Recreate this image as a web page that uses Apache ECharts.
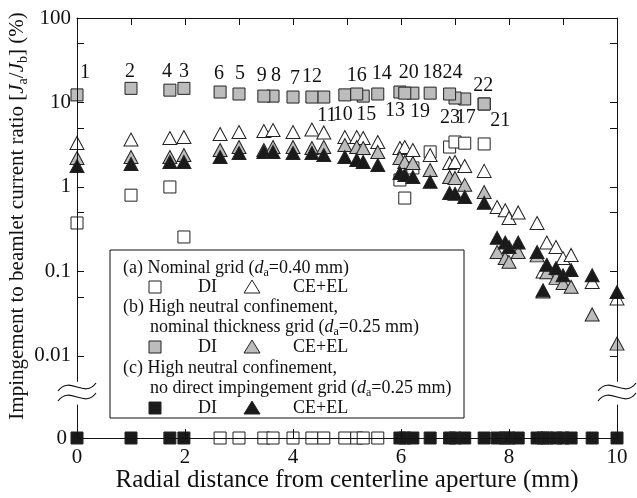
<!DOCTYPE html>
<html>
<head>
<meta charset="utf-8">
<script src="https://cdn.jsdelivr.net/npm/echarts@6/dist/echarts.min.js"></script>
<style>
html, body { margin: 0; padding: 0; background: #fff; }
#chart { width: 637px; height: 498px; }
</style>
</head>
<body>
<div id="chart"></div>
<script>
// Radial distance (mm) of every measured aperture position
const radius = [0, 1.0, 1.72, 1.98, 2.65, 3.0, 3.46, 3.63, 4.0, 4.35, 4.57, 4.96, 5.18, 5.3, 5.57,
  5.98, 6.07, 6.22, 6.54, 6.9, 7.0, 7.18, 7.54,
  7.78, 7.93, 8.0, 8.17, 8.52, 8.63, 8.7, 8.87, 9.0, 9.15, 9.54, 10];

// (a) Nominal grid, da = 0.40 mm  (0 = no measurable current, null = not measured)
const nominalDI = [0.375, 0.80, 1.0, 0.256, 0, 0, 0, 0, 0, 0, 0, 0, 0, 0, 0,
  1.21, 0.74, 1.68, 2.6, 2.97, 3.41, 3.3, 3.23,
  null, null, null, null, null, null, null, null, null, null, null, null];
const nominalCE = [3.32, 3.65, 3.8, 3.9, 4.24, 4.48, 4.6, 4.73, 4.48, 4.79, 4.42, 3.9, 3.9, 3.8, 3.41,
  2.89, 2.97, 2.74, 2.39, 1.92, 1.98, 1.77, 1.55,
  0.58, 0.53, 0.43, 0.5, 0.375, 0.1, 0.22, 0.195, 0.144, 0.157, 0.075, 0.048];

// (b) High neutral confinement, nominal thickness grid, da = 0.25 mm
const apertureNo = [1, 2, 3, 4, 5, 6, 7, 8, 9, 10, 11, 12, 13, 14, 15, 16, 17, 18, 19, 20, 21, 22, 23, 24];
const apertureR = [0, 1.0, 1.98, 1.72, 3.0, 2.65, 4.0, 3.63, 3.46, 4.96, 4.57, 4.35,
  5.98, 5.57, 5.3, 5.18, 7.18, 6.54, 6.22, 6.07, 7.54, 7.54, 7.0, 6.9];
const thickDI = [12.3, 14.7, 14.7, 14.0, 12.6, 13.3, 11.6, 11.9, 11.9, 12.3, 11.6, 11.6,
  13.3, 12.6, 11.9, 12.6, 11.0, 12.9, 12.9, 12.9, 9.6, 9.6, 11.3, 12.6];
const thickCE = [2.2, 2.26, 2.26, 2.39, 2.74, 2.97, 2.74, 2.97, 2.97, 2.89, 2.97, 3.14, 2.97, 2.89, 2.6,
  2.2, 1.98, 1.92, 1.59, 1.31, 1.28, 1.06, 0.87,
  0.17, 0.144, 0.13, 0.17, 0.155, 0.058, 0.098, 0.084, 0.073, 0.066, 0.031, 0.014];

// (c) High neutral confinement, no direct impingement grid, da = 0.25 mm
const noDirectDI = [0, 0, 0, 0, null, null, null, null, null, null, null, null, null, null, null,
  0, 0, 0, 0, 0, 0, 0, 0,
  0, 0, 0, 0, 0, 0, 0, 0, 0, 0, 0, 0];
const noDirectCE = [1.77, 1.87, 1.98, 1.98, 2.26, 2.52, 2.6, 2.6, 2.52, 2.52, 2.39, 2.26, 2.09, 1.98, 1.82,
  1.46, 1.39, 1.31, 1.15, 0.85, 0.83, 0.76, 0.65,
  0.25, 0.22, 0.195, 0.22, 0.17, 0.06, 0.12, 0.11, 0.09, 0.104, 0.09, 0.057];

// Axis ticks
const xTickLabels = [0, 2, 4, 6, 8, 10];
const yLabelValues = [0.01, 0.1, 1, 10, 100];
const yLabelText = ['0.01', '0.1', '1', '10', '100'];
const yTickValues = [0.01, 0.05, 0.1, 0.5, 1, 5, 10, 50, 100];

// Placement of aperture-number tags: [side, dx, dy]
const tagPlace = {
  1: ['top', 8, -4], 2: ['top', -1, 2], 3: ['top', 0, 2], 4: ['top', -3, 0], 5: ['top', 1, -2],
  6: ['top', -1, 0], 7: ['top', 2, 0], 8: ['top', 3, -2], 9: ['top', -2, -2], 10: ['bottom', -2, 1],
  11: ['bottom', 3, 0], 12: ['top', 0, -2], 13: ['bottom', -5, 0], 14: ['top', 4, -2], 15: ['bottom', 3, 0],
  16: ['top', 0, 0], 17: ['bottom', 1, 0], 18: ['top', 2, -2], 19: ['bottom', 7, 0], 20: ['top', 4, -2],
  21: ['bottom', 16, -2], 22: ['top', -1, 0], 23: ['bottom', -5, 1], 24: ['top', 3, -3]
};

const FONT = 'Liberation Serif';
const INK = '#111';
const WHITE = '#ffffff', GRAY = '#bcbcbc', BLACK = '#1a1a1a';
const SQ = 12, TRI = [14, 13];

function pick(xs, ys, test) {
  const out = [];
  xs.forEach((x, i) => { const y = ys[i]; if (y !== null && test(y)) out.push([x, y]); });
  return out;
}
const pos = y => y > 0;
const zero = y => y === 0;

function scatter(name, data, symbol, fill, grid, extra) {
  return Object.assign({
    name, type: 'scatter', data, symbol,
    symbolSize: symbol === 'rect' ? SQ : TRI,
    xAxisIndex: grid, yAxisIndex: grid === 0 ? 0 : 2,
    clip: false, silent: true,
    itemStyle: { color: fill, borderColor: '#222', borderWidth: 1, opacity: 1 }
  }, extra || {});
}

// Square markers for (b) DI, each carrying its aperture number
const thickDIData = apertureNo.map((n, i) => {
  const p = tagPlace[n];
  return {
    value: [apertureR[i], thickDI[i]],
    label: { show: true, formatter: String(n), position: p[0], distance: 2, offset: [p[1], p[2]] }
  };
});

const chart = echarts.init(document.getElementById('chart'), null, { renderer: 'canvas' });

const axisLine = { show: true, onZero: false, lineStyle: { color: INK, width: 1 } };
const tick = len => ({ show: true, inside: true, length: len, lineStyle: { color: INK, width: 1 } });

// Legend block
const LX = 110, LY = 250, LW = 354, LH = 168;
const rich = {
  i: { fontFamily: FONT, fontSize: 18, fontStyle: 'italic', fill: INK },
  s: { fontFamily: FONT, fontSize: 12, fill: INK, verticalAlign: 'bottom', lineHeight: 22 }
};
function ltext(x, y, text) {
  return { type: 'text', x, y, style: { text, fill: INK, font: '18px "Liberation Serif"', verticalAlign: 'middle', rich } };
}
function lsquare(cx, cy, fill) {
  return { type: 'rect', shape: { x: cx - 6, y: cy - 6, width: 12, height: 12 }, style: { fill, stroke: '#222', lineWidth: 1 } };
}
function ltri(cx, cy, fill) {
  return { type: 'polygon', shape: { points: [[cx, cy - 7], [cx + 8, cy + 6], [cx - 8, cy + 6]] }, style: { fill, stroke: '#222', lineWidth: 1 } };
}
function markerRow(y, fill) {
  return [lsquare(155, y, fill), ltext(198, y, 'DI'), ltri(252, y, fill), ltext(293, y, 'CE+EL')];
}
function wave(cx, cy) {
  return { type: 'bezierCurve', shape: { x1: cx - 19, y1: cy + 4, cpx1: cx - 7, cpy1: cy - 12, cpx2: cx + 7, cpy2: cy + 12, x2: cx + 19, y2: cy - 4 }, style: { stroke: INK, lineWidth: 1.2, fill: null } };
}

const graphics = [
  { type: 'rect', shape: { x: LX, y: LY, width: LW, height: LH }, style: { fill: '#fff', stroke: INK, lineWidth: 1 }, z: 20 },
  ltext(123, 268, '(a) Nominal grid ({i|d}{s|a}=0.40 mm)'),
  ...markerRow(287, WHITE),
  ltext(123, 307, '(b) High neutral confinement,'),
  ltext(150, 327, 'nominal thickness grid ({i|d}{s|a}=0.25 mm)'),
  ...markerRow(347, GRAY),
  ltext(123, 368, '(c) High neutral confinement,'),
  ltext(150, 388, 'no direct impingement grid ({i|d}{s|a}=0.25 mm)'),
  ...markerRow(408, BLACK),
  // axis breaks between the logarithmic part and the zero row
  wave(77, 387), wave(77, 397), wave(617, 387), wave(617, 397),
  // y axis title
  {
    type: 'text', x: 17, y: 216, rotation: Math.PI / 2,
    style: {
      text: 'Impingement to beamlet current ratio [{i|J}{s|a}/{i|J}{s|b}] (%)',
      fill: INK, font: '21px "Liberation Serif"', align: 'center', verticalAlign: 'middle',
      rich: {
        i: { fontFamily: FONT, fontSize: 21, fontStyle: 'italic', fill: INK },
        s: { fontFamily: FONT, fontSize: 14, fill: INK, verticalAlign: 'bottom', lineHeight: 26 }
      }
    }
  }
];
graphics.forEach((g, k) => { if (k > 0 && g.z === undefined) g.z = 21; });

chart.setOption({
  animation: false,
  backgroundColor: '#fff',
  textStyle: { fontFamily: FONT, color: INK },
  grid: [
    { left: 77, right: 20, top: 18, bottom: 498 - 381.4, outerBoundsMode: 'none' },
    { left: 77, right: 20, top: 405, bottom: 60, outerBoundsMode: 'none' }
  ],
  xAxis: [
    {
      type: 'value', gridIndex: 0, position: 'top', min: 0, max: 10, interval: 1,
      axisLine, axisTick: tick(7), axisLabel: { show: false }, splitLine: { show: false }, z: 10
    },
    {
      type: 'value', gridIndex: 1, position: 'bottom', min: 0, max: 10, interval: 2,
      axisLine, axisTick: tick(9),
      axisLabel: {
        show: true, fontSize: 21, fontFamily: FONT, color: INK, margin: 9,
        formatter: v => (xTickLabels.indexOf(v) >= 0 ? String(v) : '')
      },
      splitLine: { show: false },
      name: 'Radial distance from centerline aperture (mm)', nameLocation: 'middle', nameGap: 30,
      nameMoveOverlap: false,
      nameTextStyle: { fontSize: 25, fontFamily: FONT, color: INK, verticalAlign: 'top' },
      z: 10
    }
  ],
  yAxis: [
    {
      type: 'log', logBase: 10, gridIndex: 0, position: 'left', min: 0.005, max: 100,
      axisLine, axisTick: Object.assign(tick(7), { customValues: yTickValues }),
      axisLabel: {
        show: true, customValues: yLabelValues, fontSize: 21, fontFamily: FONT, color: INK, margin: 6,
        formatter: v => {
          const k = yLabelValues.findIndex(t => Math.abs(Math.log10(t) - Math.log10(v)) < 1e-6);
          return k >= 0 ? yLabelText[k] : '';
        }
      },
      splitLine: { show: false }, minorTick: { show: false }, z: 10
    },
    {
      type: 'log', logBase: 10, gridIndex: 0, position: 'right', min: 0.005, max: 100,
      axisLine, axisTick: Object.assign(tick(7), { customValues: yTickValues }),
      axisLabel: { show: false }, splitLine: { show: false }, z: 10
    },
    {
      type: 'value', gridIndex: 1, position: 'left', min: 0, max: 1, interval: 1,
      axisLine, axisTick: { show: false },
      axisLabel: { show: true, fontSize: 21, fontFamily: FONT, color: INK, margin: 10, formatter: v => (v === 0 ? '0' : '') },
      splitLine: { show: false }, z: 10
    },
    {
      type: 'value', gridIndex: 1, position: 'right', min: 0, max: 1, interval: 1,
      axisLine, axisTick: { show: false }, axisLabel: { show: false }, splitLine: { show: false }, z: 10
    }
  ],
  series: [
    scatter('(a) DI', pick(radius, nominalDI, pos), 'rect', WHITE, 0),
    scatter('(a) DI zero', pick(radius, nominalDI, zero), 'rect', WHITE, 1),
    scatter('(a) CE+EL', pick(radius, nominalCE, pos), 'triangle', WHITE, 0),
    scatter('(b) DI', thickDIData, 'rect', GRAY, 0, {
      label: { show: true, color: INK, fontSize: 20, fontFamily: FONT, lineHeight: 20 },
      z: 4
    }),
    scatter('(b) CE+EL', pick(radius, thickCE, pos), 'triangle', GRAY, 0),
    scatter('(c) DI zero', pick(radius, noDirectDI, zero), 'rect', BLACK, 1),
    scatter('(c) CE+EL', pick(radius, noDirectCE, pos), 'triangle', BLACK, 0)
  ],
  graphic: graphics
});
</script>
</body>
</html>
